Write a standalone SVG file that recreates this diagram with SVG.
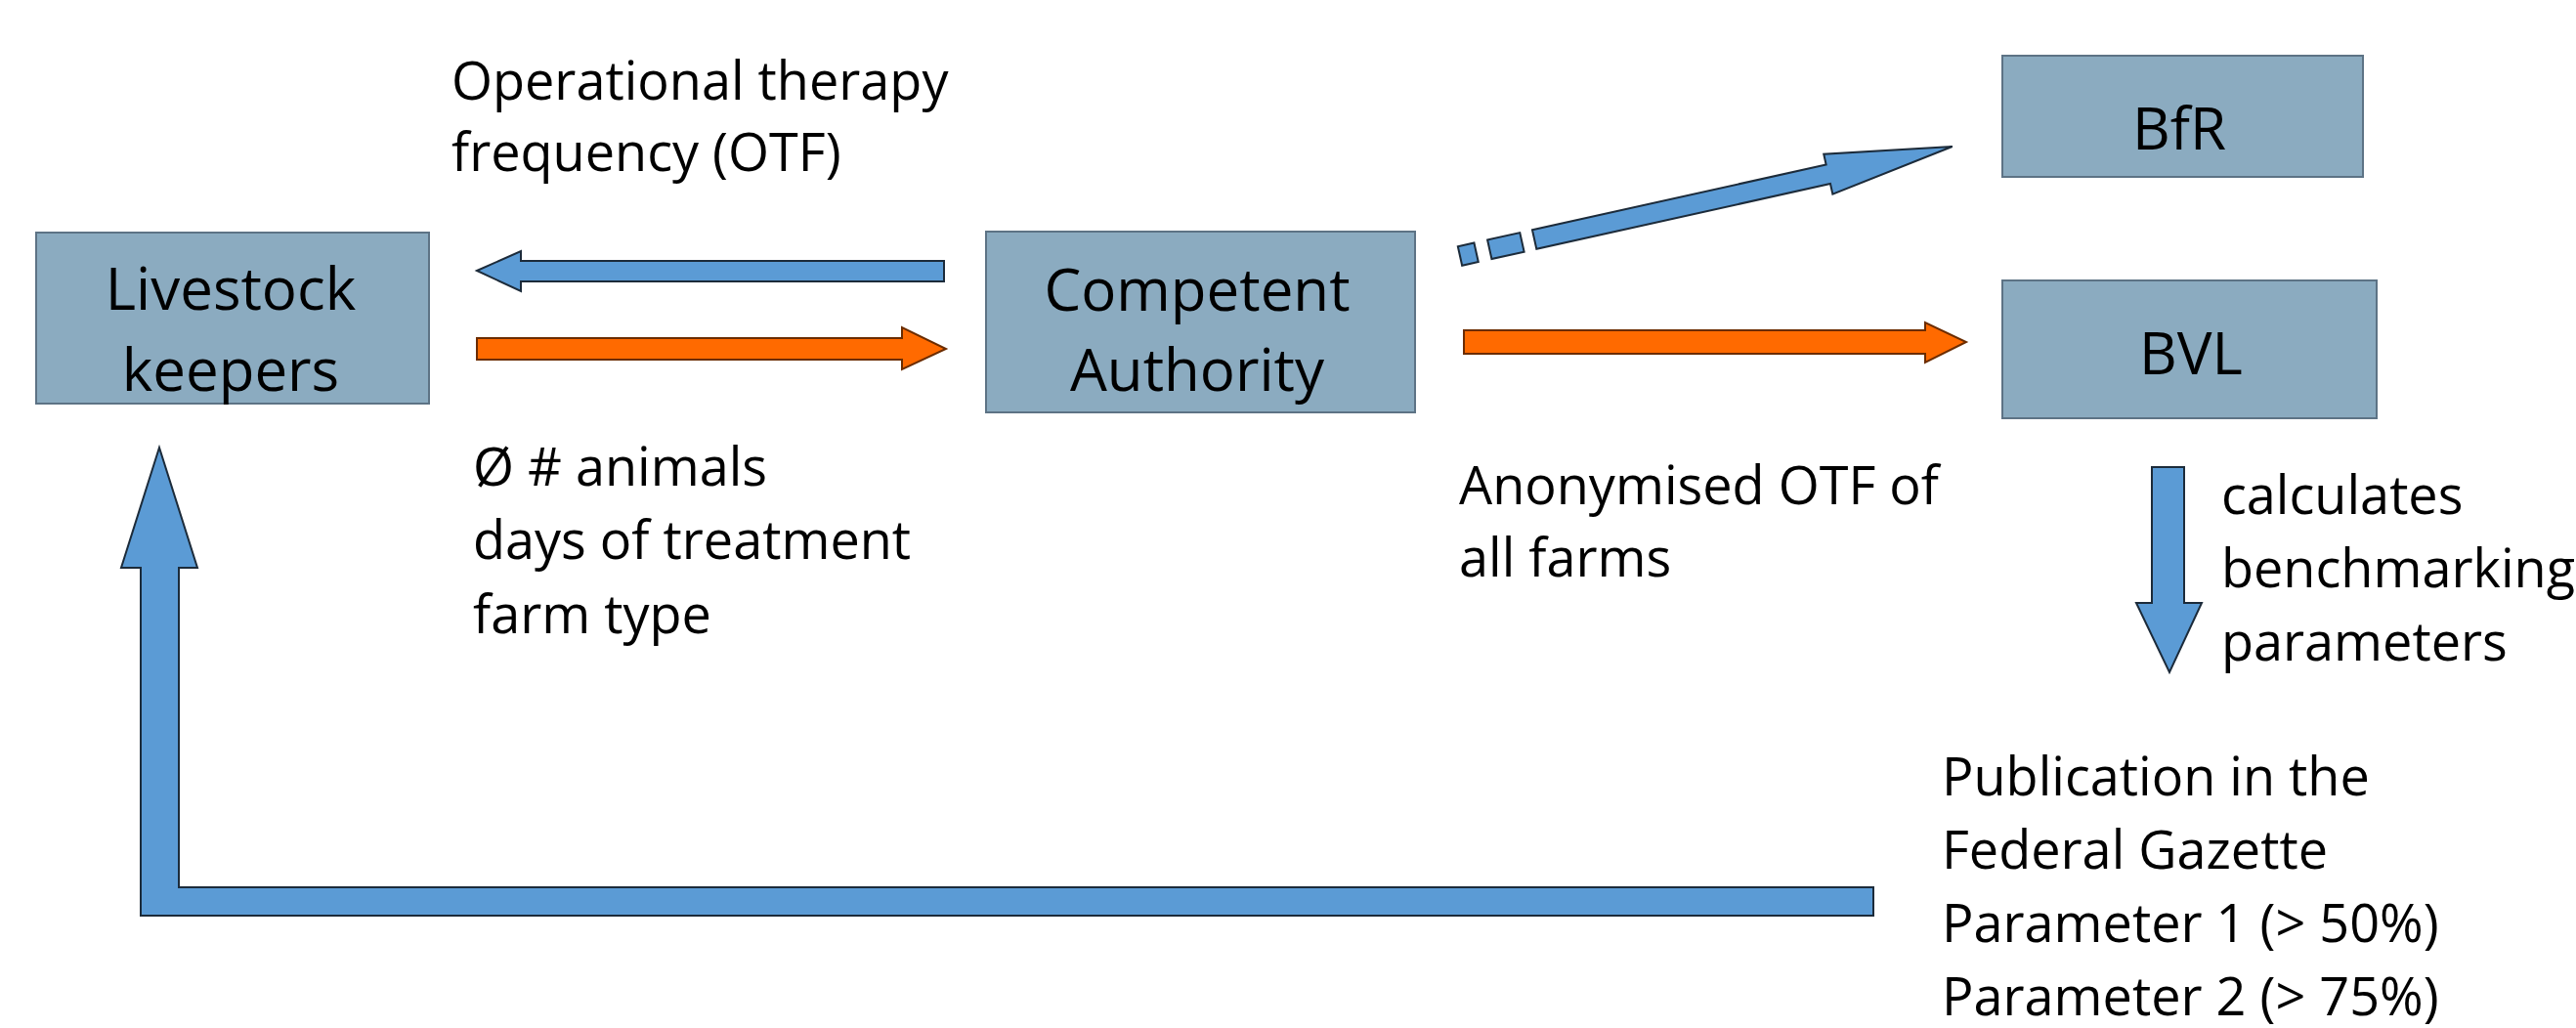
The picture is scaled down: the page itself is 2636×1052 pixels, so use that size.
<svg xmlns="http://www.w3.org/2000/svg" width="2636" height="1052" viewBox="0 0 2636 1052">
<style>
.box{fill:#8babc0;stroke:#5d7385;stroke-width:2}
.bt{font-family:"Open Sans","Noto Sans","Liberation Sans",sans-serif;font-size:60px;fill:#000;text-anchor:middle}
.lb{font-family:"Open Sans","Noto Sans","Liberation Sans",sans-serif;font-size:54px;fill:#000}
.blue{fill:#5b9bd5;stroke:#1c2b3a;stroke-width:2;stroke-linejoin:miter}
.orange{fill:#ff6a00;stroke:#6b2c00;stroke-width:2;stroke-linejoin:miter}
</style>
<rect width="2636" height="1052" fill="#fff"/>
<g id="connectors">
<polygon class="blue" points="488,277 533,257 533,267 966,267 966,288 533,288 533,298"/>
<polygon class="orange" points="488,346 923,346 923,335 968,357 923,378 923,368 488,368"/>
<polygon class="orange" points="1498,338 1970,338 1970,330 2012,350 1970,371 1970,362 1498,362"/>
<g transform="translate(1494,262) rotate(-12.53)">
<rect class="blue" x="0" y="-10" width="17" height="20"/>
<rect class="blue" x="31" y="-10" width="34" height="20"/>
<polygon class="blue" points="78,-10 386,-10 386,-21 516,0 386,21 386,10 78,10"/>
</g>
<polygon class="blue" points="2202,478 2235,478 2235,617 2253,617 2220,688 2186,617 2202,617"/>
<polygon class="blue" points="163,458 202,581 183,581 183,908 1917,908 1917,937 144,937 144,581 124,581"/>
</g>
<g id="livestock-keepers">
<rect class="box" x="37" y="238" width="402" height="175"/>
<text class="bt" x="236" y="317">Livestock</text>
<text class="bt" x="236" y="400">keepers</text>
</g>
<g id="competent-authority">
<rect class="box" x="1009" y="237" width="439" height="185"/>
<text class="bt" x="1225" y="318">Competent</text>
<text class="bt" x="1225" y="400">Authority</text>
</g>
<g id="bfr">
<rect class="box" x="2049" y="57" width="369" height="124"/>
<text class="bt" x="2230" y="153">BfR</text>
</g>
<g id="bvl">
<rect class="box" x="2049" y="287" width="383" height="141"/>
<text class="bt" x="2242" y="383">BVL</text>
</g>
<g id="labels">
<text class="lb" x="462" y="102">Operational therapy</text>
<text class="lb" x="462" y="175">frequency (OTF)</text>
<text class="lb" x="484" y="497">Ø # animals</text>
<text class="lb" x="484" y="572">days of treatment</text>
<text class="lb" x="484" y="648">farm type</text>
<text class="lb" x="1493" y="516">Anonymised OTF of</text>
<text class="lb" x="1493" y="590">all farms</text>
<text class="lb" x="2273" y="526">calculates</text>
<text class="lb" x="2273" y="601">benchmarking</text>
<text class="lb" x="2273" y="676">parameters</text>
<text class="lb" x="1987" y="814">Publication in the</text>
<text class="lb" x="1987" y="889">Federal Gazette</text>
<text class="lb" x="1987" y="964">Parameter 1 (&gt; 50%)</text>
<text class="lb" x="1987" y="1039">Parameter 2 (&gt; 75%)</text>
</g>
</svg>
